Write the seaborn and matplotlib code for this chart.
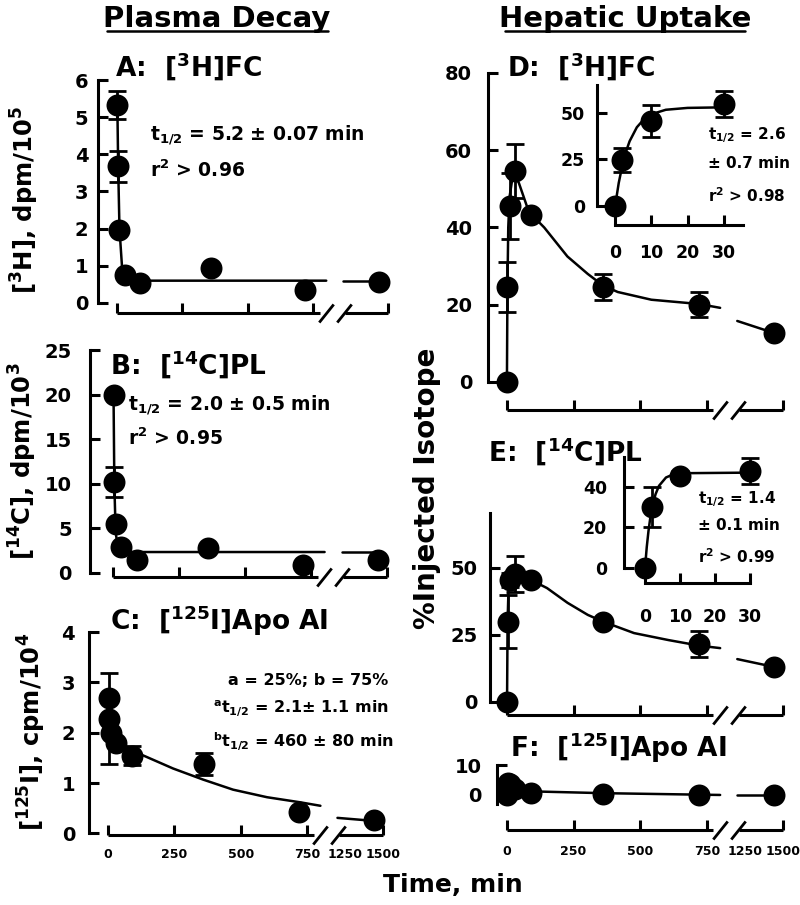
import numpy as np
import pandas as pd
import matplotlib
matplotlib.use("Agg")
import matplotlib.pyplot as plt
from matplotlib.lines import Line2D
from matplotlib.path import Path
import seaborn as sns

sns.set_style("ticks")
plt.rcParams['font.family'] = ['DejaVu Sans']
plt.rcParams['font.weight'] = 'bold'
plt.rcParams['mathtext.default'] = 'regular'
for k in ('text.color', 'axes.labelcolor', 'axes.edgecolor', 'xtick.color', 'ytick.color'):
    plt.rcParams[k] = 'black'

# --- data ---
t_plasma = [2, 5, 10, 30, 90, 360, 720, 1440]
t_liver = [0, 2, 10, 30, 90, 360, 720, 1440]
t_early = [0, 2, 10, 30]   # insets: first 30 min of hepatic uptake

# A: plasma [3H]FC (dpm/10^5)
fc_plasma = [5.32, 3.68, 1.96, 0.75, 0.54, 0.94, 0.35, 0.56]
fc_plasma_err = [0.38, 0.42, 0, 0, 0, 0, 0, 0]
# B: plasma [14C]PL (dpm/10^3)
pl_plasma = [20.0, 10.2, 5.5, 2.9, 1.5, 2.8, 0.9, 1.4]
pl_plasma_err = [0, 1.7, 0, 0, 0, 0, 0, 0]
# C: plasma [125I]Apo AI (cpm/10^4)
apo_plasma = [2.68, 2.28, 2.0, 1.8, 1.54, 1.38, 0.43, 0.26]
apo_plasma_err = [0, 0.9, 0, 0, 0.19, 0.22, 0, 0]
# D: liver [3H]FC (% injected)
fc_liver = [0, 24.6, 45.5, 54.6, 43.2, 24.6, 20.0, 12.7]
fc_liver_err = [0, 6.5, 8.5, 7.0, 0, 3.3, 3.2, 0]
# E: liver [14C]PL
pl_liver = [0, 30.0, 45.5, 47.8, 45.5, 29.9, 21.6, 13.1]
pl_liver_err = [0, 10.0, 2.5, 6.6, 0, 0, 4.8, 0]
# F: liver [125I]Apo AI
apo_liver = [0, 4.0, 3.5, 2.0, 0.7, 0.3, 0.0, 0.0]

# fitted lines (None = gap at the axis break)
fc_plasma_fit_t = [2, 5, 10, 20, 30, 60, 925, None, 1150, 1440]
fc_plasma_fit_y = [5.3, 3.7, 2.0, 0.95, 0.7, 0.6, 0.6, None, 0.6, 0.6]
pl_plasma_fit_t = [2, 5, 10, 20, 30, 60, 925, None, 1150, 1440]
pl_plasma_fit_y = [20, 10, 4.5, 2.7, 2.45, 2.35, 2.35, None, 2.35, 2.35]
apo_plasma_fit_t = [2, 10, 30, 60, 90, 132, 245, 358, 471, 599, 723, 925, None, 1150, 1440]
apo_plasma_fit_y = [2.5, 2.05, 1.85, 1.7, 1.62, 1.55, 1.29, 1.07, 0.87, 0.72, 0.62, 0.55, None, 0.31, 0.25]
fc_liver_fit_t = [0, 2, 5, 10, 20, 30, 45, 75, 90, 140, 227, 303, 360, 416, 542, 720, 925, None, 1150, 1440]
fc_liver_fit_y = [0, 24.6, 40, 48, 52.5, 53.5, 51.5, 45.5, 43.5, 40, 32.5, 28, 25, 23.3, 21.3, 20.2, 19.2, None, 15.8, 12.7]
pl_liver_fit_t = [0, 2, 5, 10, 20, 30, 60, 90, 150, 227, 303, 360, 477, 606, 723, 925, None, 1150, 1440]
pl_liver_fit_y = [0, 30, 40.5, 44.5, 46, 46.5, 46, 45.5, 42.5, 37, 32.5, 30, 25.7, 23.1, 21, 20.1, None, 16, 13.1]
apo_liver_fit_t = [0, 2, 10, 30, 90, 360, 720, 925, None, 1150, 1440]
apo_liver_fit_y = [0, 4, 3.5, 2, 1.2, 0.6, 0.1, 0, None, 0, 0]
fc_early_fit_t = [0, 1, 2, 3, 4, 6, 8, 10, 14, 20, 30]
fc_early_fit_y = [0, 12.4, 21.9, 29.2, 34.8, 42.3, 46.7, 49.3, 51.7, 52.7, 53]
pl_early_fit_t = [0, 0.5, 1, 1.5, 2, 3, 4, 6, 8, 10, 30]
pl_early_fit_y = [0, 10.3, 18.3, 24.6, 29.5, 36.3, 40.5, 44.6, 46.1, 46.7, 47]

x_ticks = [0, 250, 500, 750, 1250, 1500]


# broken time axis: 0-750 linear, squeezed gap, 1250-1500
def fwd(t):
    t = np.asarray(t, dtype=float)
    return np.where(t <= 750, t, np.where(t <= 1250, 750 + (t - 750) * 0.286,
                                          893 + (t - 1250) * 0.572))


def inv(u):
    u = np.asarray(u, dtype=float)
    return np.where(u <= 750, u, np.where(u <= 893, 750 + (u - 750) / 0.286,
                                          1250 + (u - 893) / 0.572))


W, H = 800, 905
fig = plt.figure(figsize=(W / 100, H / 100), dpi=100)
SLASH = Path([(-1, -1.25), (1, 1.25)], [Path.MOVETO, Path.LINETO])


def add_axes_px(left, right, top, bottom):
    ax = fig.add_axes([left / W, 1 - bottom / H, (right - left) / W, (bottom - top) / H])
    ax.patch.set_visible(False)
    return ax


def text_px(x, y, s, **kw):
    kw.setdefault('va', 'baseline')
    return fig.text(x / W, 1 - y / H, s, **kw)


def draw_fit(ax, ft, fy):
    d = pd.DataFrame({'t': ft, 'y': fy}, dtype=float)
    d['seg'] = d['t'].isna().cumsum()
    sns.lineplot(data=d.dropna(), x='t', y='y', units='seg', estimator=None,
                 color='black', linewidth=1.8, ax=ax, legend=False, zorder=2)


def draw_points(ax, t, y, err=None):
    if err is not None:
        t_, y_, e_ = (np.asarray(v, dtype=float) for v in (t, y, err))
        m = e_ > 0
        ax.errorbar(t_[m], y_[m], yerr=e_[m], fmt='none', ecolor='black',
                    elinewidth=2, capsize=6.5, capthick=2, zorder=3, clip_on=False)
    sns.scatterplot(x=t, y=y, ax=ax, color='black', s=250, linewidth=0,
                    zorder=4, clip_on=False, legend=False)


def main_panel(rect, xleft, ylim, ybounds, yticks, ypad, t, y, err,
               fit_t, fit_y, xlabels=False, xpad=9):
    ax = add_axes_px(*rect)
    ax.set_xscale('function', functions=(fwd, inv))
    draw_fit(ax, fit_t, fit_y)
    draw_points(ax, t, y, err)
    for s in ('top', 'right', 'bottom'):
        ax.spines[s].set_visible(False)
    ax.spines['left'].set_linewidth(2.2)
    ax.spines['left'].set_bounds(*ybounds)
    ax.set_yticks(yticks)
    ax.set_xticks(x_ticks)
    ax.set_xticklabels([str(v) for v in x_ticks])
    ax.tick_params(axis='both', direction='in', length=7, width=2.2, color='black')
    ax.tick_params(axis='y', labelsize=14, pad=ypad)
    ax.tick_params(axis='x', labelsize=9, pad=xpad, labelbottom=xlabels)
    ax.xaxis.get_major_ticks()[4].tick1line.set_visible(False)
    # broken x axis line with // marks
    tr = ax.get_xaxis_transform()
    for a, b in [(0, 837), (1170, 1500)]:
        ax.plot([a, b], [0, 0], transform=tr, color='black', lw=2.2,
                solid_capstyle='butt', clip_on=False)
    ax.plot([918, 1156], [0, 0], transform=tr, ls='none', marker=SLASH, ms=13,
            mew=2, color='black', mfc='none', clip_on=False)
    ax.set_xlim(xleft, 1500)
    ax.set_ylim(*ylim)
    ax.set_xlabel('')
    ax.set_ylabel('')
    return ax


def inset_panel(rect, xlim, ylim, ybounds, yticks, xpad, ypad, y, err, fit_t, fit_y):
    ax = add_axes_px(*rect)
    draw_fit(ax, fit_t, fit_y)
    draw_points(ax, t_early, y, err)
    ax.spines['top'].set_visible(False)
    ax.spines['right'].set_visible(False)
    for s in ('left', 'bottom'):
        ax.spines[s].set_linewidth(2.2)
    ax.spines['left'].set_bounds(*ybounds)
    ax.spines['bottom'].set_bounds(0, xlim[1])
    ax.set_xticks([0, 10, 20, 30])
    ax.set_yticks(yticks)
    ax.tick_params(axis='both', direction='in', length=7, width=2.2,
                   color='black', labelsize=12.5)
    ax.tick_params(axis='x', pad=xpad)
    ax.tick_params(axis='y', pad=ypad)
    ax.set_xlim(*xlim)
    ax.set_ylim(*ylim)
    ax.set_xlabel('')
    ax.set_ylabel('')
    return ax


# --- Plasma decay (left column) ---
main_panel((98, 388, 80, 313), -72, (-0.27, 6), (0, 6), range(0, 7), 7,
           t_plasma, fc_plasma, fc_plasma_err, fc_plasma_fit_t, fc_plasma_fit_y)
main_panel((90, 387, 350, 577), -87, (-0.45, 25), (0, 25), range(0, 26, 5), 13,
           t_plasma, pl_plasma, pl_plasma_err, pl_plasma_fit_t, pl_plasma_fit_y)
main_panel((89, 383, 632, 835), -72, (-0.03, 4), (0, 4), range(0, 5), 10,
           t_plasma, apo_plasma, apo_plasma_err, apo_plasma_fit_t, apo_plasma_fit_y,
           xlabels=True, xpad=9)

# --- Hepatic uptake (right column) ---
main_panel((488, 783, 73, 410), -71, (-7.25, 80), (0, 80), range(0, 81, 20), 11.5,
           t_liver, fc_liver, fc_liver_err, fc_liver_fit_t, fc_liver_fit_y)
main_panel((490, 783, 513, 715), -64, (-4.85, 70.5), (0, 70.5), [0, 25, 50], 9,
           t_liver, pl_liver, pl_liver_err, pl_liver_fit_t, pl_liver_fit_y)
main_panel((497, 783, 765, 830), -37.5, (-11.7, 10), (-3, 10), [0, 10], 11,
           t_liver, apo_liver, None, apo_liver_fit_t, apo_liver_fit_y,
           xlabels=True, xpad=11)

inset_panel((597, 743, 85, 225), (-5, 35.3), (-10.2, 65), (0, 65), [0, 25, 50], 14, 8.5,
            fc_liver[:4], fc_liver_err[:4], fc_early_fit_t, fc_early_fit_y)
inset_panel((624, 750, 457, 583), (-6, 30), (-7.4, 54.7), (0, 54.7), [0, 20, 40], 18, 12,
            pl_liver[:4], pl_liver_err[:4], pl_early_fit_t, pl_early_fit_y)

# --- headers, titles, labels ---
text_px(217, 27, 'Plasma Decay', ha='center', size=21)
text_px(625, 27, 'Hepatic Uptake', ha='center', size=21)
fig.add_artist(Line2D([107 / W, 328 / W], [1 - 31 / H] * 2, color='black', lw=1.8))
fig.add_artist(Line2D([505 / W, 745 / W], [1 - 31 / H] * 2, color='black', lw=1.8))

text_px(115, 77, 'A:  [$^{3}$H]FC', size=19)
text_px(110, 375, 'B:  [$^{14}$C]PL', size=19)
text_px(110, 630, 'C:  [$^{125}$I]Apo AI', size=19)
text_px(507, 77, 'D:  [$^{3}$H]FC', size=19)
text_px(488, 462, 'E:  [$^{14}$C]PL', size=19)
text_px(510, 757, 'F:  [$^{125}$I]Apo AI', size=19)

text_px(150, 140, 't$_{1/2}$ = 5.2 ± 0.07 min', size=13.5)
text_px(150, 177, 'r$^{2}$ > 0.96', size=13.5)
text_px(128, 410, 't$_{1/2}$ = 2.0 ± 0.5 min', size=13.5)
text_px(128, 445, 'r$^{2}$ > 0.95', size=13.5)
text_px(228, 685, 'a = 25%; b = 75%', size=11.5)
text_px(213, 713, '${}^{a}$t$_{1/2}$ = 2.1± 1.1 min', size=11.5)
text_px(213, 747, '${}^{b}$t$_{1/2}$ = 460 ± 80 min', size=11.5)
text_px(708, 139, 't$_{1/2}$ = 2.6', size=11)
text_px(708, 168, '± 0.7 min', size=11)
text_px(708, 202, 'r$^{2}$ > 0.98', size=11)
text_px(698, 503, 't$_{1/2}$ = 1.4', size=11)
text_px(698, 530, '± 0.1 min', size=11)
text_px(698, 563, 'r$^{2}$ > 0.99', size=11)

fig.text(25 / W, 1 - 200 / H, '[$^{3}$H], dpm/10$^{5}$', rotation=90,
         ha='center', va='center', size=17.5)
fig.text(23 / W, 1 - 461 / H, '[$^{14}$C], dpm/10$^{3}$', rotation=90,
         ha='center', va='center', size=17.5)
fig.text(32 / W, 1 - 732 / H, '[$^{125}$I], cpm/10$^{4}$', rotation=90,
         ha='center', va='center', size=17.5)
fig.text(427 / W, 1 - 488 / H, '%Injected Isotope', rotation=90,
         ha='center', va='center', size=20)
text_px(453, 892, 'Time, min', ha='center', size=18)

fig.savefig('out.png', dpi=100)
